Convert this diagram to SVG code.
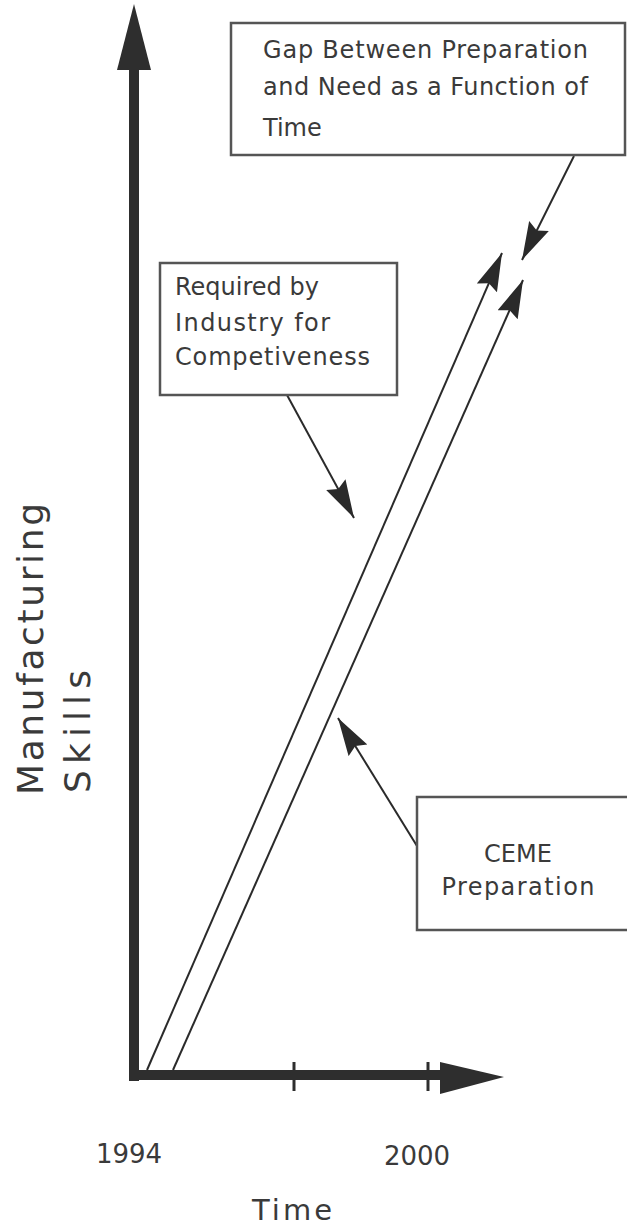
<svg xmlns="http://www.w3.org/2000/svg" width="627" height="1228" viewBox="0 0 627 1228">
<style>
  .t { font-family: "DejaVu Sans", "Liberation Sans", sans-serif; fill: #3a3a3a; }
  .box { fill: #ffffff; stroke: #555555; stroke-width: 2.5; }
  .ln { stroke: #2a2a2a; stroke-width: 2; fill: none; }
  .ax { fill: #2e2e2e; }
</style>
<defs>
  <marker id="ah" markerUnits="userSpaceOnUse" markerWidth="42" markerHeight="24" refX="38" refY="11" orient="auto">
    <path d="M0,0 L38,11 L0,22 L5,11 z" fill="#2a2a2a"/>
  </marker>
</defs>
<rect width="627" height="1228" fill="#ffffff"/>

<g id="axes">
  <rect class="ax" x="129" y="66" width="10" height="1015"/>
  <polygon class="ax" points="134,4 151,70 117,70"/>
  <rect class="ax" x="129" y="1070" width="315" height="10"/>
  <polygon class="ax" points="504,1077 440,1062 440,1094"/>
  <line x1="294" y1="1062" x2="294" y2="1091" stroke="#2e2e2e" stroke-width="3"/>
  <line x1="428" y1="1062" x2="428" y2="1091" stroke="#2e2e2e" stroke-width="3"/>
</g>

<g id="labels">
  <text class="t" transform="translate(43,795) rotate(-90)" font-size="36" textLength="292" lengthAdjust="spacing">Manufacturing</text>
  <text class="t" transform="translate(90,793) rotate(-90)" font-size="36" textLength="123" lengthAdjust="spacing">Skills</text>
  <text class="t" x="129" y="1163" font-size="26" text-anchor="middle">1994</text>
  <text class="t" x="417" y="1165" font-size="26" text-anchor="middle">2000</text>
  <text class="t" x="292" y="1220" font-size="29" text-anchor="middle" textLength="80" lengthAdjust="spacing">Time</text>
</g>

<g id="connectors">
  <line class="ln" x1="147" y1="1070" x2="502" y2="253" marker-end="url(#ah)"/>
  <line class="ln" x1="173" y1="1070" x2="523" y2="280" marker-end="url(#ah)"/>
  <line class="ln" x1="574" y1="156" x2="522" y2="260" marker-end="url(#ah)"/>
  <line class="ln" x1="287" y1="395" x2="354" y2="518" marker-end="url(#ah)"/>
  <line class="ln" x1="417" y1="846" x2="338" y2="718" marker-end="url(#ah)"/>
</g>

<g id="box-gap">
  <rect class="box" x="231" y="23" width="394" height="132"/>
  <text class="t" x="263" y="58" font-size="24" textLength="325" lengthAdjust="spacing">Gap Between Preparation</text>
  <text class="t" x="263" y="95" font-size="24" textLength="325" lengthAdjust="spacing">and Need as a Function of</text>
  <text class="t" x="263" y="136" font-size="24">Time</text>
</g>

<g id="box-required">
  <rect class="box" x="160" y="263" width="237" height="132"/>
  <text class="t" x="175" y="295" font-size="24">Required by</text>
  <text class="t" x="175" y="331" font-size="24" textLength="155" lengthAdjust="spacing">Industry for</text>
  <text class="t" x="175" y="365" font-size="24" textLength="195" lengthAdjust="spacing">Competiveness</text>
</g>

<g id="box-ceme">
  <rect class="box" x="417" y="797" width="230" height="133"/>
  <text class="t" x="518" y="862" font-size="24" text-anchor="middle">CEME</text>
  <text class="t" x="518" y="895" font-size="24" text-anchor="middle" textLength="153" lengthAdjust="spacing">Preparation</text>
</g>
</svg>
